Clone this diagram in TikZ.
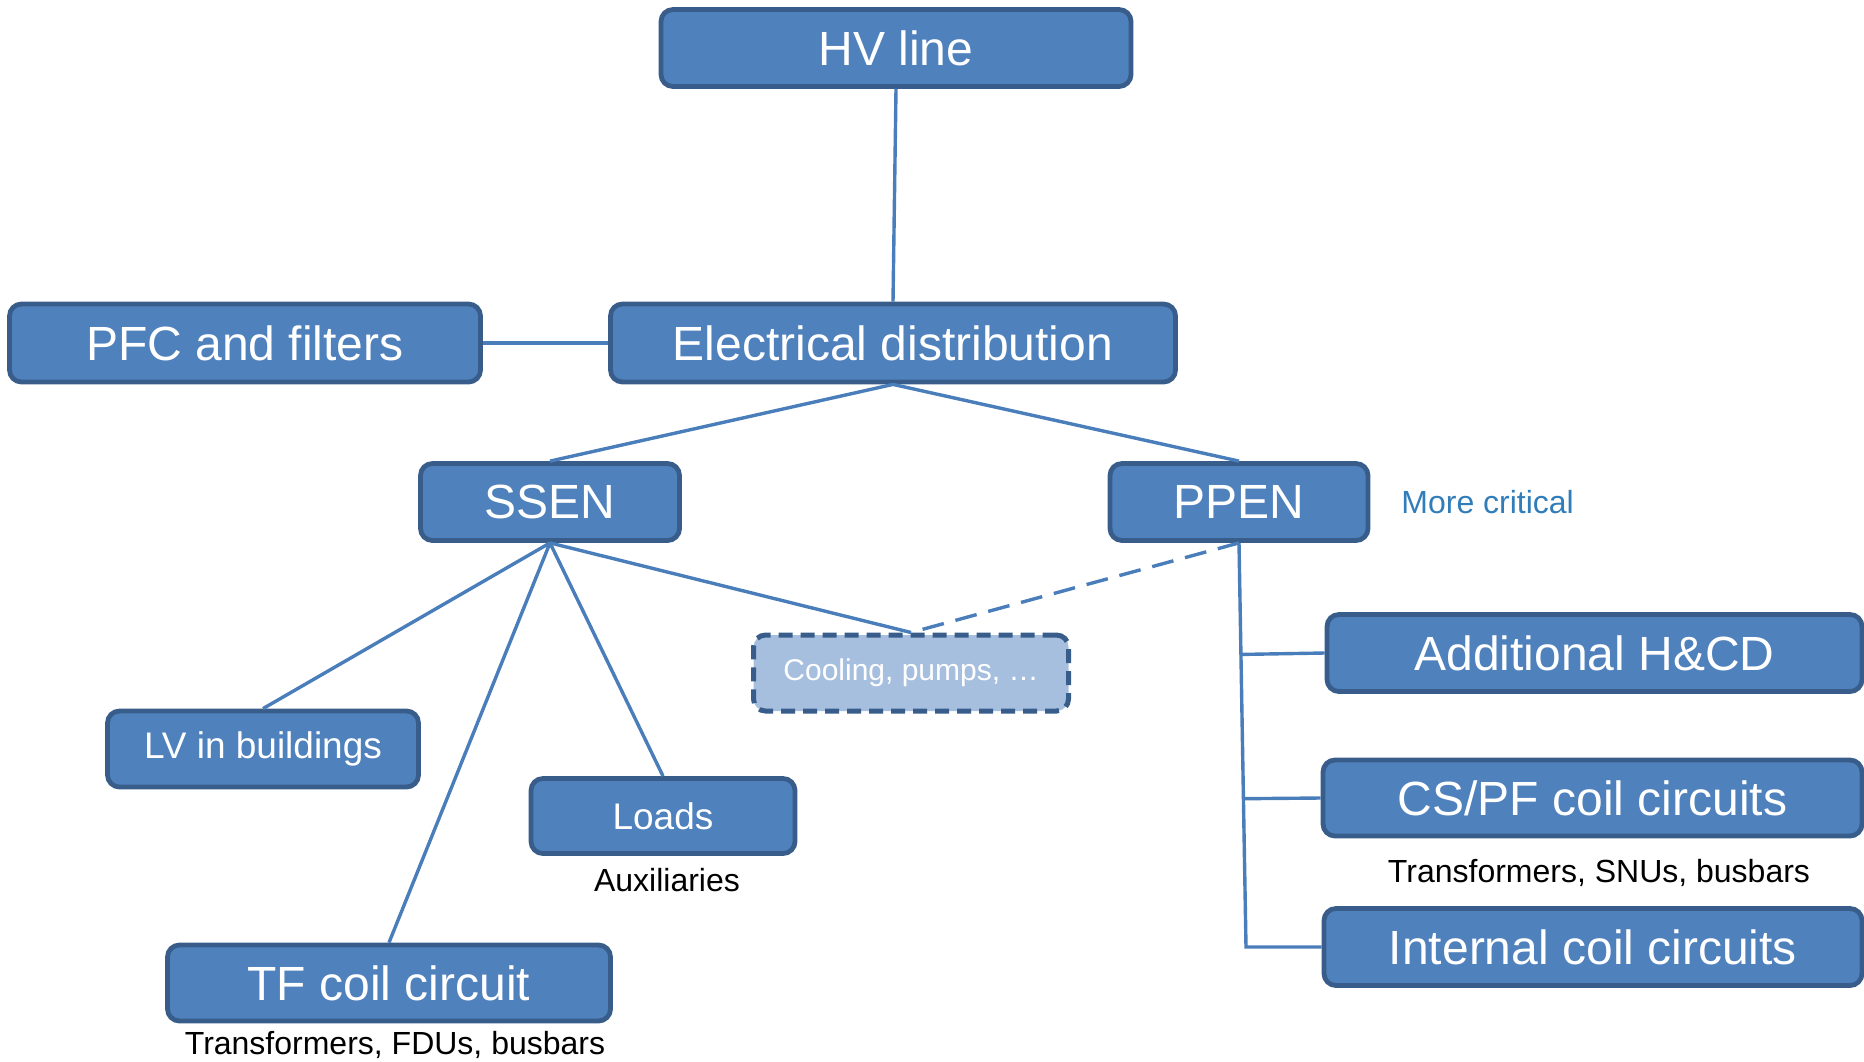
\documentclass[tikz,border=0pt]{standalone}
\usepackage{fontspec}
\setmainfont{Liberation Sans}
\usetikzlibrary{calc}
\definecolor{boxfill}{HTML}{4F81BD}
\definecolor{boxdraw}{HTML}{385D8A}
\definecolor{linkcol}{HTML}{4A7EBB}
\definecolor{lightfill}{HTML}{A7BFDE}
\definecolor{critcol}{RGB}{49,125,186}
\begin{document}
\begin{tikzpicture}[x=0.5pt,y=-0.5pt,
  blk/.style={draw=boxdraw, fill=boxfill, line width=2.4pt, rounded corners=6pt,
    text=white, inner sep=0pt, align=center},
  bigtxt/.style={font=\fontsize{24}{28}\selectfont},
  midtxt/.style={font=\fontsize{18.5}{22}\selectfont},
  lighttxt/.style={draw=boxdraw, fill=lightfill, line width=2.5pt, rounded corners=6pt,
    dash pattern=on 7pt off 4pt, text=white, inner sep=0pt,
    font=\fontsize{15}{18}\selectfont},
  note/.style={inner sep=0pt, font=\fontsize{16}{19}\selectfont},
  link/.style={draw=linkcol, line width=1.7pt},
  dlink/.style={draw=linkcol, line width=1.7pt, dash pattern=on 11pt off 6pt}]
\useasboundingbox (0,0) rectangle (1864,1061);

\node[blk,bigtxt,minimum width=235pt,minimum height=38.5pt] (hv) at (896,48) {HV line};
\node[blk,bigtxt,minimum width=282.5pt,minimum height=39pt] (ed) at (893,343) {Electrical distribution};
\node[blk,bigtxt,minimum width=235.5pt,minimum height=39pt] (pfc) at (245,343) {PFC and filters};
\node[blk,bigtxt,minimum width=129.5pt,minimum height=38.5pt] (ssen) at (550,502) {SSEN};
\node[blk,bigtxt,minimum width=129pt,minimum height=38.5pt] (ppen) at (1239,502) {PPEN};
\node[note,text=critcol,anchor=west] (crit) at (1401,502) {More critical};

\node[lighttxt,minimum width=157.5pt,minimum height=38pt] (cool) at (911,673) {\raisebox{-1.8pt}{Cooling, pumps, …}};
\node[blk,midtxt,minimum width=155.5pt,minimum height=38pt] (lv) at (263,749) {\raisebox{-1.6pt}{LV in buildings}};
\node[blk,midtxt,minimum width=132pt,minimum height=37.5pt] (loads) at (663,816) {Loads};
\node[note] (aux) at (667,880) {Auxiliaries};
\node[blk,bigtxt,minimum width=221.5pt,minimum height=38pt] (tf) at (389,983) {TF coil circuit};
\node[note] (tfsub) at (395,1045) {Transformers, FDUs, busbars};

\node[blk,bigtxt,minimum width=267.5pt,minimum height=38.5pt] (add) at (1594.5,653) {Additional H\&CD};
\node[blk,bigtxt,minimum width=269.5pt,minimum height=38pt] (cspf) at (1592.5,798) {CS/PF coil circuits};
\node[note] (cssub) at (1599,873) {Transformers, SNUs, busbars};
\node[blk,bigtxt,minimum width=269pt,minimum height=38.5pt] (int) at (1593,947) {Internal coil circuits};

\coordinate (pb) at (1246,947);

\draw[link] (hv.south) -- (ed.north);
\draw[link] (pfc.east) -- (ed.west);
\draw[link] (ed.south) -- (ssen.north);
\draw[link] (ed.south) -- (ppen.north);
\draw[link] (ssen.south) -- (lv.north);
\draw[link] (ssen.south) -- (tf.north);
\draw[link] (ssen.south) -- (loads.north);
\draw[link] (ssen.south) -- (cool.north);
\draw[dlink] (ppen.south) -- (cool.north);
\draw[link] (ppen.south) -- (pb) -- (int.west);
\draw[link] ($(ppen.south)!0.276!(pb)$) -- (add.west);
\draw[link] ($(ppen.south)!0.633!(pb)$) -- (cspf.west);
\end{tikzpicture}
\end{document}
